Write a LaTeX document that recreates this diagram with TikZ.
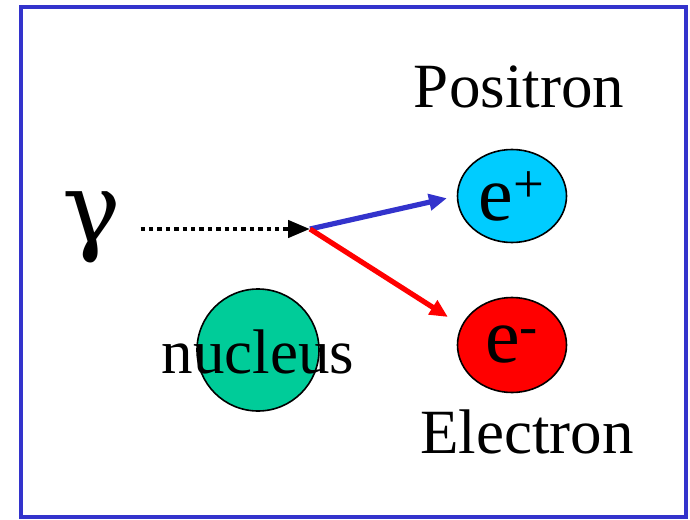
\documentclass[tikz,border=0pt]{standalone}
\usepackage{fontspec}
\setmainfont{Liberation Serif}
\newfontfamily\greekfont{DejaVu Serif}
\usetikzlibrary{arrows.meta,shapes.geometric}
\definecolor{FrameBlue}{RGB}{51,51,204}
\definecolor{PosCyan}{RGB}{0,204,255}
\definecolor{NucGreen}{RGB}{0,204,153}

\begin{document}
\begin{tikzpicture}[x=0.5pt,y=-0.5pt,
    ball/.style={ellipse,draw=black,line width=0.8pt,inner sep=0pt,
               minimum width=54.5pt,minimum height=46.5pt,
               font=\fontsize{39}{44}\selectfont},
    lbl/.style={anchor=base,inner sep=0pt,font=\fontsize{31.5}{36}\selectfont},
    arr/.style={-{Triangle[length=9pt,width=8pt]},line width=2.6pt},
    photon/.style={-{Triangle[length=11pt,width=8.5pt]},line width=2.2pt,
               dash pattern=on 2.2pt off 2pt,shorten <=9.5pt}
  ]
    \useasboundingbox (0,0) rectangle (690,519);
    \draw[FrameBlue,line width=2pt] (21,7) rectangle (686,517);
    \node[ball,fill=NucGreen,minimum width=61pt,minimum height=61pt] (nuc) at (258,350) {};
    \node[lbl] (nuclbl) at (258,373) {nucleus};
    \node[ball,fill=PosCyan] (pos) at (512,196) {e\textsuperscript{+}};
    \node[ball,fill=red,minimum height=47.5pt] (ele) at (512,345) {\raisebox{-4pt}{e\textsuperscript{-}}};
    \node[lbl] (poslbl) at (519,107) {Positron};
    \node[lbl] (elelbl) at (527,453) {Electron};
    \node[lbl,font=\greekfont\fontsize{49}{54}\selectfont] (gamma) at (92,242) {γ};
    \coordinate (vertex) at (310,229);
    \draw[photon] (gamma.east |- vertex) -- (vertex);
    \draw[arr,FrameBlue,shorten >=5pt] (vertex) -- (pos.west);
    \draw[arr,red,shorten >=8pt] (vertex) -- (ele.159);
  \end{tikzpicture}
\end{document}
